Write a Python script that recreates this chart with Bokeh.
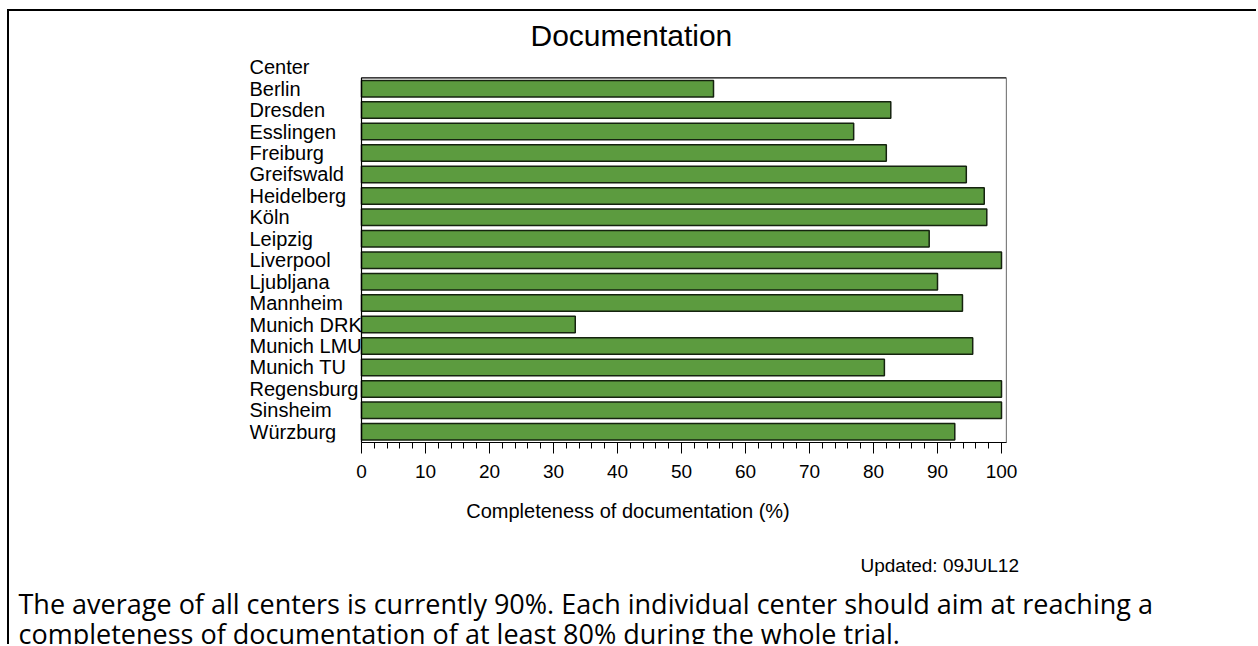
from bokeh.plotting import figure
from bokeh.models import Range1d, FactorRange, SingleIntervalTicker, ColumnDataSource, BoxAnnotation, Title
from bokeh.core.properties import value
from bokeh.embed import file_html
from bokeh.resources import INLINE

centers = ["Berlin", "Dresden", "Esslingen", "Freiburg", "Greifswald", "Heidelberg",
           "Köln", "Leipzig", "Liverpool", "Ljubljana", "Mannheim", "Munich DRK",
           "Munich LMU", "Munich TU", "Regensburg", "Sinsheim", "Würzburg"]
completeness = [55.0, 82.7, 76.9, 82.0, 94.5, 97.3, 97.7, 88.7, 100.0, 90.0,
                93.9, 33.4, 95.5, 81.7, 100.0, 100.0, 92.7]

title_text = "Documentation"
header_text = "Center"
x_label = "Completeness of documentation (%)"
updated_text = "Updated: 09JUL12"
note_text = ("The average of all centers is currently 90%. Each individual center should aim at reaching a\n"
             "completeness of documentation of at least 80% during the whole trial.")

LABEL_FONT = "Liberation Sans"
NOTE_FONT = "Open Sans"

X_END = 100.78
X_START = -17.5   # room for the left-aligned center names

factors = list(reversed(centers)) + [header_text]
p = figure(width=1249, height=635, output_backend="svg", toolbar_location=None,
           y_range=FactorRange(*factors, range_padding=0),
           x_range=Range1d(X_START, X_END),
           min_border_left=240, min_border_top=44, min_border_right=252, min_border_bottom=204)
p.styles = {"margin-left": "7px", "margin-top": "9px",
            "border-left": "2px solid black", "border-top": "2px solid black"}
p.grid.visible = False
p.outline_line_color = None
p.background_fill_color = "white"
p.border_fill_color = "white"
p.yaxis.visible = False

# plot box around the bar area (0 .. end, below the header row)
p.add_layout(BoxAnnotation(left=0, top=len(centers), fill_color=None, fill_alpha=0,
                           line_color="black", line_alpha=1.0, line_width=1.2))

src = ColumnDataSource(dict(center=centers, value=completeness))
p.hbar(y="center", right="value", left=0, height=0.77, source=src,
       fill_color="#5C9B3F", line_color="#15230f", line_width=1.5)

# left-aligned center names and header
name_src = ColumnDataSource(dict(name=centers + [header_text]))
p.text(x=X_START, y="name", text="name", source=name_src,
       text_font=value(LABEL_FONT), text_font_size="20px", text_color="black",
       text_align="left", text_baseline="middle")

# x axis
xa = p.xaxis[0]
xa.bounds = (0, X_END)
xa.ticker = SingleIntervalTicker(interval=10, num_minor_ticks=5)
xa.major_tick_out = 11
xa.major_tick_in = 0
xa.minor_tick_out = 6
xa.minor_tick_in = 0
xa.major_tick_line_color = "black"
xa.minor_tick_line_color = "black"
xa.axis_line_color = "black"
xa.major_label_text_font = LABEL_FONT
xa.major_label_text_font_size = "19px"
xa.major_label_text_color = "black"
xa.major_label_standoff = 11
xa.axis_label = x_label
xa.axis_label_text_font = LABEL_FONT
xa.axis_label_text_font_size = "20px"
xa.axis_label_text_font_style = "normal"
xa.axis_label_text_color = "black"
xa.axis_label_standoff = 19

# title (frame left edge is at page x 249)
p.title.text = title_text
p.title.text_font = LABEL_FONT
p.title.text_font_size = "30px"
p.title.text_font_style = "normal"
p.title.text_color = "black"
p.title.align = "left"
p.title.offset = 281
p.title.standoff = 10

def below_title(text, size, font, offset, standoff, line_height=1.2):
    t = Title(text=text, text_font=font, text_font_size=size, text_font_style="normal",
              text_color="black", align="left", offset=offset, standoff=standoff,
              text_line_height=line_height)
    p.add_layout(t, "below")

below_title(updated_text, "19px", LABEL_FONT, 611, 57)
below_title(note_text, "27px", NOTE_FONT, -231, -42, 0.816)

open("out.html", "w").write(file_html(p, INLINE))
